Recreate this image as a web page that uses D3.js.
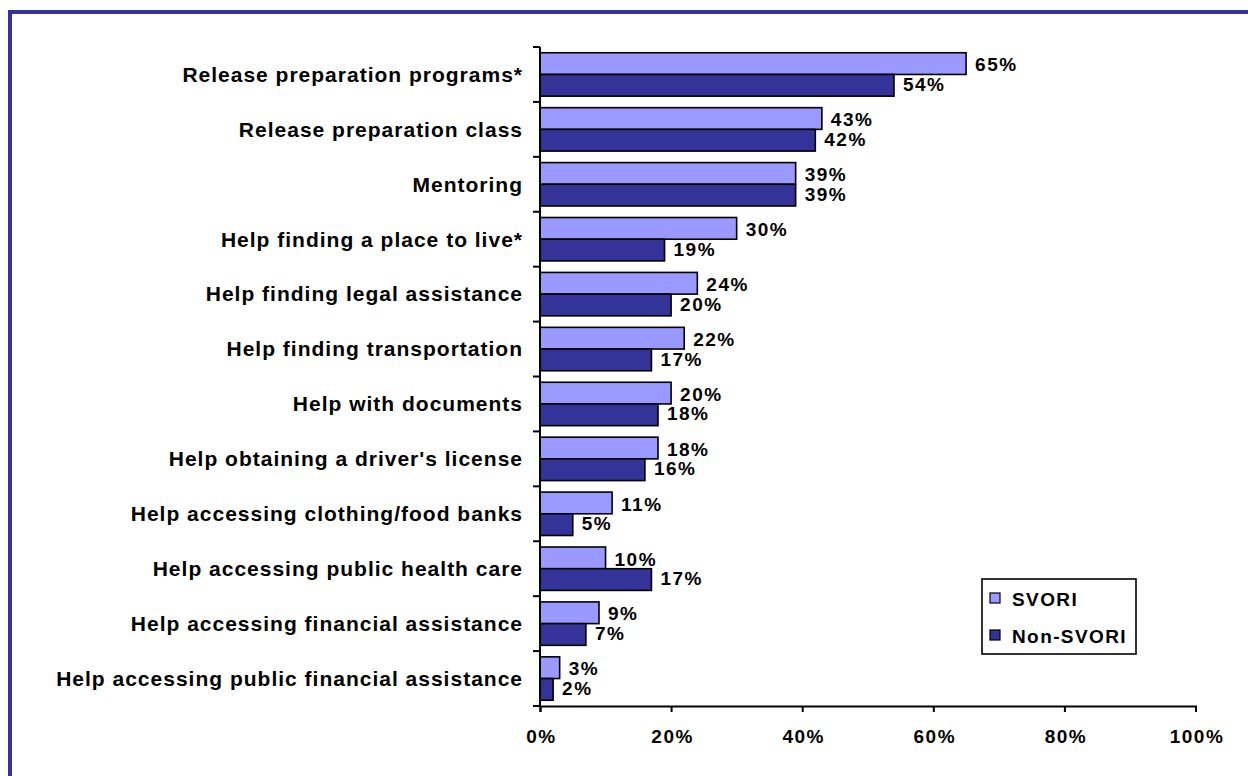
<!DOCTYPE html>
<html>
<head>
<meta charset="utf-8">
<script src="https://cdn.jsdelivr.net/npm/d3@7"></script>
<style>
  html, body { margin: 0; padding: 0; background: #fff; }
  svg { display: block; }
  text { font-family: "Liberation Sans", Arial, sans-serif; font-weight: bold; fill: #000; }
</style>
</head>
<body>
<svg id="chart" width="1248" height="776"></svg>
<script>
// Reentry services received, SVORI vs. Non-SVORI participants
const categories = [
  "Release preparation programs*",
  "Release preparation class",
  "Mentoring",
  "Help finding a place to live*",
  "Help finding legal assistance",
  "Help finding transportation",
  "Help with documents",
  "Help obtaining a driver's license",
  "Help accessing clothing/food banks",
  "Help accessing public health care",
  "Help accessing financial assistance",
  "Help accessing public financial assistance"
];
const seriesNames = ["SVORI", "Non-SVORI"];
const svoriValues    = [65, 43, 39, 30, 24, 22, 20, 18, 11, 10, 9, 3];
const nonSvoriValues = [54, 42, 39, 19, 20, 17, 18, 16, 5, 17, 7, 2];
const xTickValues = [0, 20, 40, 60, 80, 100];

const colors = { "SVORI": "#9999FF", "Non-SVORI": "#333399" };

const svg = d3.select("#chart");

// frame lines along top and left
svg.append("rect").attr("x", 8).attr("y", 10).attr("width", 1240).attr("height", 4).attr("fill", "#333399");
svg.append("rect").attr("x", 8).attr("y", 10).attr("width", 4).attr("height", 766).attr("fill", "#333399");

const plotLeft = 540, plotRight = 1195.5, plotTop = 47, plotBottom = 706;

const x = d3.scaleLinear().domain([0, 100]).range([plotLeft, plotRight]);
const y0 = d3.scaleBand().domain(categories).range([plotTop, plotBottom]).padding(0);
const y1 = d3.scaleBand().domain(seriesNames).range([0, y0.bandwidth()]).paddingInner(0).paddingOuter(0.265);

const rows = categories.map((c, i) => ({
  cat: c,
  vals: [
    { key: "SVORI", value: svoriValues[i] },
    { key: "Non-SVORI", value: nonSvoriValues[i] }
  ]
}));

const g = svg.append("g");

const groups = g.selectAll("g.row").data(rows).join("g")
  .attr("class", "row")
  .attr("transform", d => `translate(0,${y0(d.cat)})`);

groups.selectAll("rect").data(d => d.vals).join("rect")
  .attr("x", x(0))
  .attr("y", d => y1(d.key))
  .attr("width", d => x(d.value) - x(0))
  .attr("height", y1.bandwidth())
  .attr("fill", d => colors[d.key])
  .attr("stroke", "#000")
  .attr("stroke-width", 1.6);

// value labels
groups.selectAll("text.val").data(d => d.vals).join("text")
  .attr("class", "val")
  .attr("x", d => x(d.value) + 9)
  .attr("y", d => y1(d.key) + y1.bandwidth() / 2 + (d.key === "SVORI" ? 1 : -1))
  .attr("dy", "0.35em")
  .attr("font-size", 19)
  .attr("letter-spacing", 1.5)
  .text(d => d.value + "%");

// category labels
groups.append("text")
  .attr("x", 523)
  .attr("y", y0.bandwidth() / 2)
  .attr("dy", "0.35em")
  .attr("text-anchor", "end")
  .attr("font-size", 21)
  .attr("letter-spacing", 1.0)
  .text(d => d.cat);

// y axis line with ticks between categories
const yBoundaries = categories.map(c => y0(c)).concat([plotBottom]);
svg.append("line").attr("x1", plotLeft).attr("x2", plotLeft).attr("y1", plotTop).attr("y2", plotBottom)
  .attr("stroke", "#000").attr("stroke-width", 2);
svg.selectAll("line.ytick").data(yBoundaries).join("line")
  .attr("class", "ytick")
  .attr("x1", plotLeft - 7).attr("x2", plotLeft)
  .attr("y1", d => d).attr("y2", d => d)
  .attr("stroke", "#000").attr("stroke-width", 2);

// x axis
const xAxis = d3.axisBottom(x).tickValues(xTickValues).tickFormat(d => d + "%").tickSize(6).tickSizeOuter(6);
const xg = svg.append("g").attr("transform", `translate(0,${plotBottom})`).call(xAxis);
xg.select(".domain").attr("stroke", "#000").attr("stroke-width", 2);
xg.selectAll(".tick line").attr("stroke", "#000").attr("stroke-width", 2);
xg.selectAll(".tick text")
  .attr("font-size", 19)
  .attr("font-family", "Liberation Sans, Arial, sans-serif")
  .attr("font-weight", "bold")
  .attr("letter-spacing", 1.5)
  .attr("fill", "#000")
  .attr("x", 1)
  .attr("y", 30)
  .attr("dy", "0.35em");

// legend
const lg = svg.append("g").attr("transform", "translate(982,579)");
lg.append("rect").attr("width", 154).attr("height", 75).attr("fill", "#fff").attr("stroke", "#000").attr("stroke-width", 1.6);
const items = lg.selectAll("g.item").data(seriesNames).join("g")
  .attr("class", "item")
  .attr("transform", (d, i) => `translate(8,${14 + i * 37})`);
items.append("rect").attr("width", 10).attr("height", 10)
  .attr("fill", d => colors[d]).attr("stroke", "#000").attr("stroke-width", 1.2);
items.append("text").attr("x", 22).attr("y", 6.5).attr("dy", "0.35em")
  .attr("font-size", 19).attr("letter-spacing", 1.4).text(d => d);
</script>
</body>
</html>
